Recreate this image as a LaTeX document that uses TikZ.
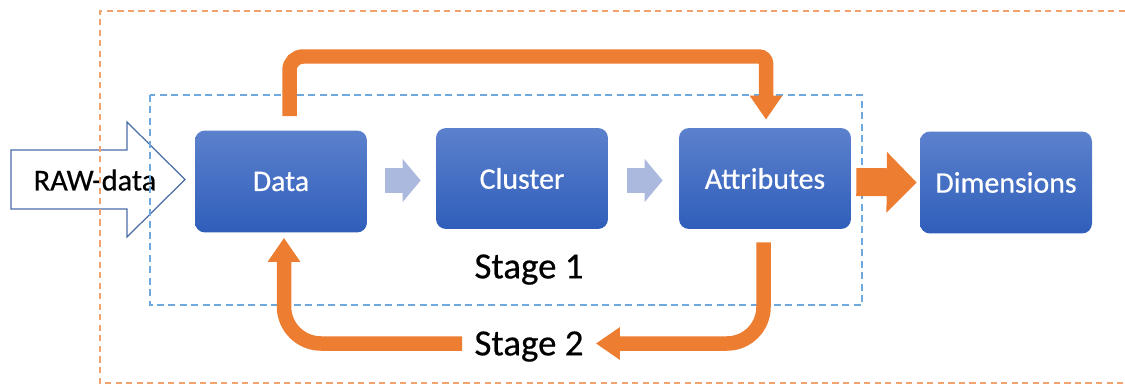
\documentclass[tikz,border=0pt]{standalone}
\usepackage{fontspec}
\setmainfont{Carlito}
\newfontfamily\lblfont{Carlito}[FakeBold=0.5]
\usetikzlibrary{arrows.meta,calc}
\definecolor{orangeA}{HTML}{ED7D31}
\definecolor{orangeD}{HTML}{F2A26E}
\definecolor{blueD}{HTML}{6FA8DC}
\definecolor{boxtop}{HTML}{5C81CD}
\definecolor{boxbot}{HTML}{2F5EBA}
\definecolor{lightarr}{HTML}{AAB9DD}
\definecolor{rawedge}{HTML}{4A6CA8}
\begin{document}
\begin{tikzpicture}[x=0.02cm,y=-0.02cm,
  box/.style={rounded corners=0.2cm, top color=boxtop, bottom color=boxbot,
    minimum width=3.44cm, minimum height=2.04cm, text=white,
    font=\lblfont\fontsize{17}{20}\selectfont, inner sep=0pt},
  flow/.style={draw=orangeA, line width=0.29cm,
    -{Triangle[width=0.62cm,length=0.48cm]}},
  bigflow/.style={draw=orangeA, line width=0.56cm,
    -{Triangle[width=1.18cm,length=0.6cm]}},
  smallflow/.style={draw=lightarr, line width=0.52cm,
    -{Triangle[width=0.84cm,length=0.36cm]}},
  stagelabel/.style={font=\lblfont\fontsize{21}{24}\selectfont, text height=13.5pt,
    text depth=0pt, inner xsep=0.24cm, inner ysep=0pt},
  outerframe/.style={orangeD, line width=0.8pt, dash pattern=on 3.5pt off 2.5pt},
  innerframe/.style={blueD, line width=0.7pt, dash pattern=on 4pt off 2.5pt},
  rawarrow/.style={draw=rawedge, line width=0.7pt, fill=white}
]
\useasboundingbox (0,0) rectangle (1125,385);

% input block arrow
\draw[rawarrow] (11,150) -- (127,150) -- (127,122) -- (185,179.5) -- (127,237)
  -- (127,209) -- (11,209) -- cycle;
\node[font=\lblfont\fontsize{17.3}{20}\selectfont, inner sep=0pt] (raw) at (95,180) {RAW-data};

% frames
\draw[outerframe] (1125,11) -- (100,11) -- (100,383) -- (1125,383);
\draw[innerframe] (150,95) rectangle (862,305);

% boxes
\node[box] (data) at (281,181.5) {Data};
\node[box, minimum height=2.02cm] (cluster) at (522,178.5) {Cluster};
\node[box, minimum height=2.02cm] (attr) at (765,178.5) {Attributes};
\node[box] (dim) at (1006,182.5) {Dimensions};

% stage labels
\node[stagelabel] (stage1) at (529,266.5) {Stage 1};
\node[stagelabel] (stage2) at (529,343.5) {Stage 2};

% small arrows
\draw[smallflow] ($(data.east)+(18,-1)$) -- ($(cluster.west)+(-15,2)$);
\draw[smallflow] ($(cluster.east)+(19,2)$) -- ($(attr.west)+(-16,2)$);

% attributes to dimensions
\draw[bigflow] ($(attr.east)+(5,3.5)$) -- ($(dim.west)+(-3,0)$);

% top loop
\draw[flow] ($(data.north)+(8.5,-14)$) [rounded corners=0.27cm] -- (289.5,56.5)
  [rounded corners=0.14cm] -- (766,56.5) -- ($(attr.north)+(1,-8)$);

% bottom loop
\draw[flow, rounded corners=0.73cm] ($(attr.south)+(-1.5,13)$) |- (stage2.east);
\draw[flow, rounded corners=0.74cm] (stage2.west) -| ($(data.south)+(3,5)$);
\end{tikzpicture}
\end{document}
